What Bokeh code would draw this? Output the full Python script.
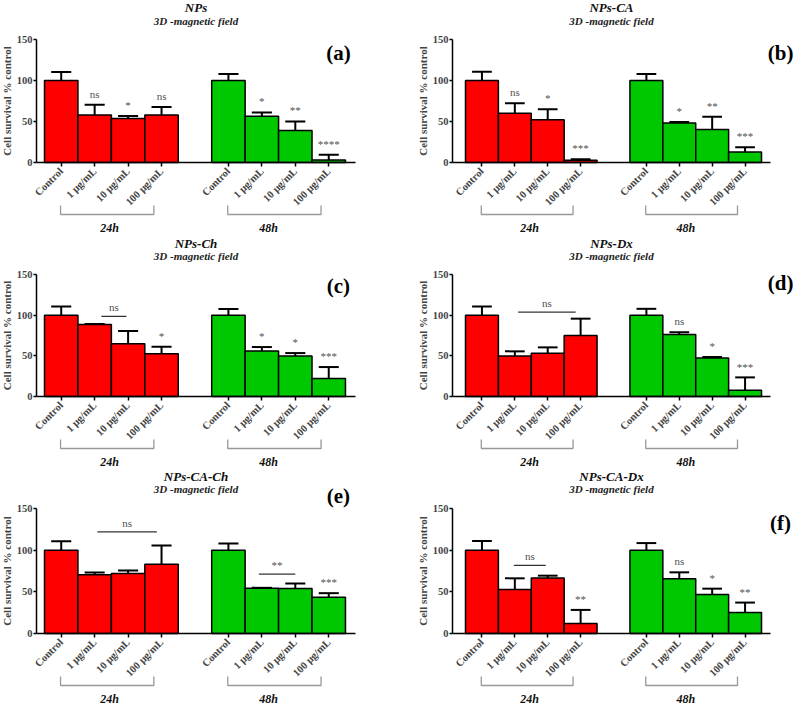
from bokeh.plotting import figure
from bokeh.models import Range1d, FixedTicker, Label
from bokeh.layouts import gridplot
from bokeh.embed import file_html
from bokeh.resources import INLINE
from bokeh.core.properties import value
from math import pi

# ---------------- data ----------------
CATEGORIES = ["Control", "1 μg/mL", "10 μg/mL", "100 μg/mL"]
GROUPS = ["24h", "48h"]
SUBTITLE = "3D -magnetic field"
PANEL_NAMES = ["NPs", "NPs-CA", "NPs-Ch", "NPs-Dx", "NPs-CA-Ch", "NPs-CA-Dx"]
PANEL_TAGS = ["(a)", "(b)", "(c)", "(d)", "(e)", "(f)"]
Y_TICKS = [0, 50, 100, 150]

# (a) NPs
nps_24h_mean = [100, 57.9, 53.8, 57.9]
nps_24h_sem = [10.5, 12.6, 2.9, 9.8]
nps_48h_mean = [100, 56.3, 39.1, 2.9]
nps_48h_sem = [8.0, 4.8, 11.0, 6.5]
nps_24h_sig = ["", "ns", "*", "ns"]
nps_48h_sig = ["", "*", "**", "****"]
nps_lines = []

# (b) NPs-CA
npsca_24h_mean = [100, 60.2, 52.1, 2.8]
npsca_24h_sem = [10.7, 12.0, 12.9, 1.2]
npsca_48h_mean = [100, 48.1, 40.1, 12.8]
npsca_48h_sem = [7.9, 1.2, 15.7, 5.7]
npsca_24h_sig = ["", "ns", "*", "***"]
npsca_48h_sig = ["", "*", "**", "***"]
npsca_lines = []

# (c) NPs-Ch
npsch_24h_mean = [100, 88.4, 64.9, 52.6]
npsch_24h_sem = [10.6, 0.8, 15.7, 8.6]
npsch_48h_mean = [100, 55.9, 49.7, 22.2]
npsch_48h_sem = [7.7, 4.9, 3.7, 14.0]
npsch_24h_sig = ["", "", "", "*"]
npsch_48h_sig = ["", "*", "*", "***"]
npsch_lines = [(1.2, 1.95, 98.6, "ns")]

# (d) NPs-Dx
npsdx_24h_mean = [100, 49.9, 53.1, 75.0]
npsdx_24h_sem = [10.7, 5.6, 7.3, 20.7]
npsdx_48h_mean = [100, 76.2, 47.4, 7.7]
npsdx_48h_sem = [7.8, 2.8, 1.2, 15.8]
npsdx_24h_sig = ["", "", "", ""]
npsdx_48h_sig = ["", "ns", "*", "***"]
npsdx_lines = [(1.1, 2.85, 103.8, "ns")]

# (e) NPs-CA-Ch
npscach_24h_mean = [100, 70.4, 72.0, 83.2]
npscach_24h_sem = [10.8, 2.8, 3.6, 22.4]
npscach_48h_mean = [100, 54.4, 54.0, 43.6]
npscach_48h_sem = [8.0, 0.4, 6.0, 4.8]
npscach_24h_sig = ["", "", "", ""]
npscach_48h_sig = ["", "", "", "***"]
npscach_lines = [(1.08, 2.86, 122.0, "ns"), (5.91, 7.0, 71.2, "**")]

# (f) NPs-CA-Dx
npscadx_24h_mean = [100, 52.7, 66.6, 12.0]
npscadx_24h_sem = [10.9, 13.5, 2.8, 16.3]
npscadx_48h_mean = [100, 65.8, 46.7, 25.1]
npscadx_48h_sem = [8.5, 7.6, 7.1, 12.0]
npscadx_24h_sig = ["", "", "", "**"]
npscadx_48h_sig = ["", "ns", "*", "**"]
npscadx_lines = [(0.97, 1.94, 81.8, "ns")]

TAG_Y = [133, 134, 136, 139, 165, 133]

# ---------------- style / geometry ----------------
FONT = value("Liberation Serif")
RED = "#FF0000"
GREEN = "#00C800"
COLORS = [RED, GREEN]
W = 400
# per row: (height, px from top to y=0, px from top to y=150, title px, subtitle px)
ROWS = [(236, 162, 39, 7, 20), (233, 160, 38, 7, 19), (238, 164, 39, 7, 19)]
# per column: px/unit, px of first bar's left edge, y-axis px, x-axis end px, tag x
COLS = [(33.44, 44, 36, 355, 8.29), (32.89, 65, 52, 370, 9.08)]


def make_panel(idx, m24, s24, m48, s48, sig24, sig48, lines):
    H, zero_px, top_px, t_px, st_px = ROWS[idx // 2]
    ppu, bar0, yax_px, xend_px, tag_x = COLS[idx % 2]
    K = (zero_px - top_px) / 150.0
    x0 = -0.5 - bar0 / ppu
    x1 = x0 + W / ppu
    yax = -0.5 - (bar0 - yax_px) / ppu
    xend = -0.5 + (xend_px - bar0) / ppu
    py = lambda px: (zero_px - px) / K   # px from row top -> data y

    p = figure(width=W, height=H, x_range=Range1d(x0, x1),
               y_range=Range1d(py(H), py(0)), title=None, min_border=0,
               output_backend="svg", toolbar_location=None)
    p.outline_line_color = None
    p.xgrid.visible = False
    p.ygrid.visible = False

    xmid = (yax + xend) / 2
    p.text(x=[xmid], y=[py(t_px)], text=[PANEL_NAMES[idx]], text_font=FONT,
           text_font_size="13px", text_font_style="bold italic", text_color="#111111",
           text_align="center", text_baseline="middle")
    p.text(x=[xmid], y=[py(st_px)], text=[SUBTITLE], text_font=FONT,
           text_font_size="11px", text_font_style="bold italic", text_color="#222222",
           text_align="center", text_baseline="middle")

    means = [m24, m48]
    sems = [s24, s48]
    sigs = [sig24, sig48]
    all_x = []
    for g in range(2):
        xs = [5 * g + i for i in range(len(CATEGORIES))]
        all_x += xs
        tops = [m + s for m, s in zip(means[g], sems[g])]
        p.segment(x0=xs, y0=means[g], x1=xs, y1=tops, line_color="black", line_width=2)
        p.segment(x0=[x - 0.3 for x in xs], y0=tops, x1=[x + 0.3 for x in xs], y1=tops,
                  line_color="black", line_width=2)
        p.vbar(x=xs, top=means[g], bottom=0, width=1.0, fill_color=COLORS[g],
               line_color="black", line_width=1.5)
        sx, sy, st = [], [], []
        for x, t, s in zip(xs, tops, sigs[g]):
            if s:
                sx.append(x); sy.append(t + 6); st.append(s)
        if sx:
            p.text(x=sx, y=sy, text=st, text_font=FONT, text_font_size="11px",
                   text_color="#505050", text_align="center", text_baseline="bottom")
        bx0, bx1 = 5 * g - 0.02, 5 * g + 2.77
        yt, yb = py(zero_px + 43), py(zero_px + 52)
        p.multi_line(xs=[[bx0, bx0, bx1, bx1]], ys=[[yt, yb, yb, yt]],
                     line_color="#999999", line_width=1.3)
    yl = py(zero_px + 65)
    p.text(x=[1.45, 6.2], y=[yl, yl], text=GROUPS, text_font=FONT,
           text_font_size="12px", text_font_style="bold italic", text_color="#111111",
           text_align="center", text_baseline="middle")

    for (lx0, lx1, y, t) in lines:
        p.segment(x0=[lx0], y0=[y], x1=[lx1], y1=[y], line_color="#333333", line_width=1.3)
        p.text(x=[(lx0 + lx1) / 2], y=[y + 4], text=[t], text_font=FONT, text_font_size="11px",
               text_color="#505050", text_align="center", text_baseline="bottom")

    p.add_layout(Label(x=tag_x, y=TAG_Y[idx], text=PANEL_TAGS[idx], text_font="Liberation Serif",
                       text_font_size="21px", text_font_style="bold", text_color="black",
                       text_align="center", text_baseline="middle"))

    # y axis at a fixed x
    ya = p.yaxis[0]
    ya.fixed_location = yax
    ya.ticker = FixedTicker(ticks=Y_TICKS)
    ya.bounds = (0, 150)
    ya.axis_label = "Cell survival % control"
    ya.axis_label_text_font = "Liberation Serif"
    ya.axis_label_text_font_size = "11px"
    ya.axis_label_text_font_style = "bold"
    ya.axis_label_standoff = 1
    ya.major_label_text_font = "Liberation Serif"
    ya.major_label_text_font_size = "10.5px"
    ya.major_label_text_font_style = "bold"
    ya.major_label_standoff = 1
    ya.major_tick_out = 3
    ya.major_tick_in = 0
    ya.minor_tick_line_color = None
    ya.axis_line_width = 1.5
    ya.major_tick_line_width = 1.5

    # x axis at y = 0
    xa = p.xaxis[0]
    xa.fixed_location = 0
    xa.bounds = (yax, xend)
    xa.ticker = FixedTicker(ticks=all_x)
    xa.major_label_overrides = {5 * g + i: c for g in range(2) for i, c in enumerate(CATEGORIES)}
    xa.major_label_orientation = pi / 4
    xa.major_label_text_font = "Liberation Serif"
    xa.major_label_text_font_size = "10.5px"
    xa.major_label_text_font_style = "bold"
    xa.major_label_standoff = 3
    xa.major_tick_out = 4
    xa.major_tick_in = 0
    xa.minor_tick_line_color = None
    xa.axis_line_width = 1.5
    xa.major_tick_line_width = 1.5
    return p


panels = [
    make_panel(0, nps_24h_mean, nps_24h_sem, nps_48h_mean, nps_48h_sem, nps_24h_sig, nps_48h_sig, nps_lines),
    make_panel(1, npsca_24h_mean, npsca_24h_sem, npsca_48h_mean, npsca_48h_sem, npsca_24h_sig, npsca_48h_sig, npsca_lines),
    make_panel(2, npsch_24h_mean, npsch_24h_sem, npsch_48h_mean, npsch_48h_sem, npsch_24h_sig, npsch_48h_sig, npsch_lines),
    make_panel(3, npsdx_24h_mean, npsdx_24h_sem, npsdx_48h_mean, npsdx_48h_sem, npsdx_24h_sig, npsdx_48h_sig, npsdx_lines),
    make_panel(4, npscach_24h_mean, npscach_24h_sem, npscach_48h_mean, npscach_48h_sem, npscach_24h_sig, npscach_48h_sig, npscach_lines),
    make_panel(5, npscadx_24h_mean, npscadx_24h_sem, npscadx_48h_mean, npscadx_48h_sem, npscadx_24h_sig, npscadx_48h_sig, npscadx_lines),
]

grid = gridplot([[panels[0], panels[1]], [panels[2], panels[3]], [panels[4], panels[5]]],
                toolbar_location=None)

open("out.html", "w").write(file_html(grid, INLINE))
